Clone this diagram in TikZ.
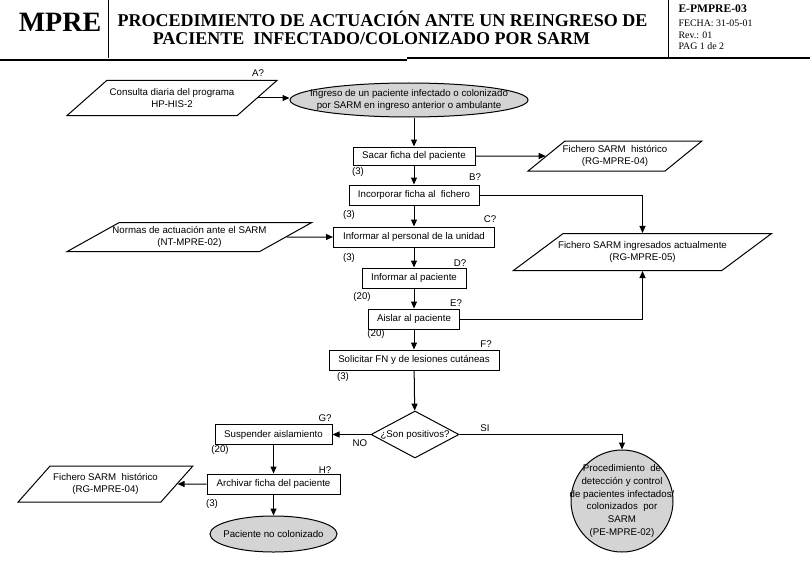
\documentclass[tikz,border=0pt]{standalone}
\usepackage{fontspec}
\setmainfont{Liberation Sans}
\newfontfamily\tnr{Liberation Serif}
\usetikzlibrary{shapes.geometric,arrows.meta}
\definecolor{grisclaro}{RGB}{212,212,212}

\begin{document}
\begin{tikzpicture}[x=1pt, y=-1pt, line width=1pt, >={Triangle[length=7pt,width=6pt]},
  font=\fontsize{9.7}{11.5}\selectfont,
  proceso/.style={draw, rectangle, minimum height=20pt, inner sep=0pt, fill=white},
  terminal/.style={draw, ellipse, fill=grisclaro, inner xsep=-30pt, inner ysep=-6pt, align=center},
  datos/.style={draw, trapezium, trapezium stretches=true, inner xsep=-20pt, inner ysep=0pt, align=center},
  decision/.style={draw, diamond, aspect=1.9, inner sep=0pt, minimum width=88pt, minimum height=47pt},
  etiqueta/.style={inner sep=0pt}]
  \useasboundingbox (0,0) rectangle (810,567);

  % Cabecera
  \draw[line width=1.2pt] (0,60) -- (407,60);
  \draw[line width=1.2pt] (407,58) -- (810,58);
  \draw (108,0) -- (108,58);
  \draw (668,0) -- (668,58);
  \node[font=\tnr\bfseries\fontsize{28}{28}\selectfont, anchor=base] (sigla) at (60,32) {MPRE};
  \node[font=\tnr\bfseries\fontsize{18}{18}\selectfont, anchor=base] (titulo1) at (382.5,27) {PROCEDIMIENTO DE ACTUACIÓN ANTE UN REINGRESO DE};
  \node[font=\tnr\bfseries\fontsize{18}{18}\selectfont, anchor=base] (titulo2) at (371.5,45) {PACIENTE\ \ INFECTADO/COLONIZADO POR SARM};
  \node[font=\tnr\bfseries\fontsize{11.6}{12}\selectfont, anchor=base west, inner sep=0pt] (codigo) at (678,13) {E-PMPRE-03};
  \node[font=\tnr\fontsize{9.9}{10}\selectfont, anchor=base west, inner sep=0pt] (fecha) at (678,27) {FECHA: 31-05-01};
  \node[font=\tnr\fontsize{9.9}{10}\selectfont, anchor=base west, inner sep=0pt] (revision) at (678,39) {Rev.: 01};
  \node[font=\tnr\fontsize{9.9}{10}\selectfont, anchor=base west, inner sep=0pt] (pagina) at (678,50) {PAG 1 de 2};

  % Entradas y registros
  \node[datos, trapezium left angle=36, trapezium right angle=144, minimum width=210pt, minimum height=35pt] (consulta) at (172,98) {Consulta diaria del programa\\HP-HIS-2};
  \node[datos, trapezium left angle=26, trapezium right angle=154, minimum width=245pt, minimum height=29pt] (normas) at (189.5,237) {Normas de actuación ante el SARM\\(NT-MPRE-02)};
  \node[datos, trapezium left angle=41, trapezium right angle=139, minimum width=174pt, minimum height=30pt] (histder) at (615,156) {Fichero SARM\ \ histórico\\(RG-MPRE-04)};
  \node[datos, trapezium left angle=27, trapezium right angle=153, minimum width=259pt, minimum height=37pt] (ingresados) at (642.5,252) {Fichero SARM ingresados actualmente\\(RG-MPRE-05)};
  \node[datos, trapezium left angle=48, trapezium right angle=132, minimum width=175pt, minimum height=36pt] (histizq) at (105.5,484) {Fichero SARM\ \ histórico\\(RG-MPRE-04)};

  % Flujo principal
  \node[terminal, minimum width=238pt, minimum height=34pt] (ingreso) at (409,100) {Ingreso de un paciente infectado o colonizado\\por SARM en ingreso anterior o ambulante};
  \node[proceso, minimum width=122pt, minimum height=18pt] (sacar) at (414,156) {Sacar ficha del paciente};
  \node[proceso, minimum width=130pt] (incorporar) at (414,195) {Incorporar ficha al\ \ fichero};
  \node[proceso, minimum width=161pt] (personal) at (414,237) {Informar al personal de la unidad};
  \node[proceso, minimum width=104pt] (infpaciente) at (414,278) {Informar al paciente};
  \node[proceso, minimum width=91pt] (aislar) at (414,319) {Aislar al paciente};
  \node[proceso, minimum width=170pt] (solicitar) at (414,360) {Solicitar FN y de lesiones cutáneas};
  \node[decision] (positivos) at (415,434.5) {¿Son positivos?};
  \node[proceso, minimum width=117pt] (suspender) at (273.5,434.5) {Suspender aislamiento};
  \node[proceso, minimum width=133pt] (archivar) at (273.5,484) {Archivar ficha del paciente};
  \node[terminal, minimum width=127pt, minimum height=36pt] (nocolon) at (273.5,534) {Paciente no colonizado};
  \node[draw, circle, fill=grisclaro, inner sep=-20pt, minimum size=102pt, align=center,
        font=\fontsize{9.7}{12.8}\selectfont] (deteccion) at (622,501)
        {Procedimiento\ \ de\\detección y control\\de pacientes infectados/\\colonizados\ \ por\\SARM\\(PE-MPRE-02)};

  % Etiquetas
  \node[etiqueta] (etqA) at (258,73) {A?};
  \node[etiqueta] (etqB) at (475,177) {B?};
  \node[etiqueta] (etqC) at (490,219) {C?};
  \node[etiqueta] (etqD) at (460,263) {D?};
  \node[etiqueta] (etqE) at (456,303) {E?};
  \node[etiqueta] (etqF) at (486,344) {F?};
  \node[etiqueta] (etqG) at (325,418) {G?};
  \node[etiqueta] (etqH) at (325,470) {H?};
  \node[etiqueta] (tiempo1) at (358,172) {(3)};
  \node[etiqueta] (tiempo2) at (349,215) {(3)};
  \node[etiqueta] (tiempo3) at (349,258) {(3)};
  \node[etiqueta] (tiempo4) at (362,297) {(20)};
  \node[etiqueta] (tiempo5) at (376,334) {(20)};
  \node[etiqueta] (tiempo6) at (343,377) {(3)};
  \node[etiqueta] (tiempo7) at (220,450) {(20)};
  \node[etiqueta] (tiempo8) at (212,504) {(3)};
  \node[etiqueta] (etqSI) at (485,428) {SI};
  \node[etiqueta] (etqNO) at (360,443) {NO};

  % Conectores
  \draw[->] (consulta.east) -- (consulta.east -| ingreso.west);
  \draw[->] (sacar.north |- ingreso.south) -- (sacar);
  \draw[->] (sacar) -- (histder);
  \draw[->] (sacar) -- (incorporar);
  \draw[->] (incorporar) -| (ingresados);
  \draw[->] (incorporar) -- (personal);
  \draw[->] (normas) -- (personal);
  \draw[->] (personal) -- (infpaciente);
  \draw[->] (infpaciente) -- (aislar);
  \draw[->] (aislar) -| (ingresados);
  \draw[->] (aislar) -- (solicitar);
  \draw[->] (solicitar) -- (positivos);
  \draw[->] (positivos) -- (suspender);
  \draw[->] (positivos) -| (deteccion);
  \draw[->] (suspender) -- (archivar);
  \draw[->] (archivar) -- (histizq);
  \draw[->] (archivar) -- (nocolon);
\end{tikzpicture}
\end{document}
